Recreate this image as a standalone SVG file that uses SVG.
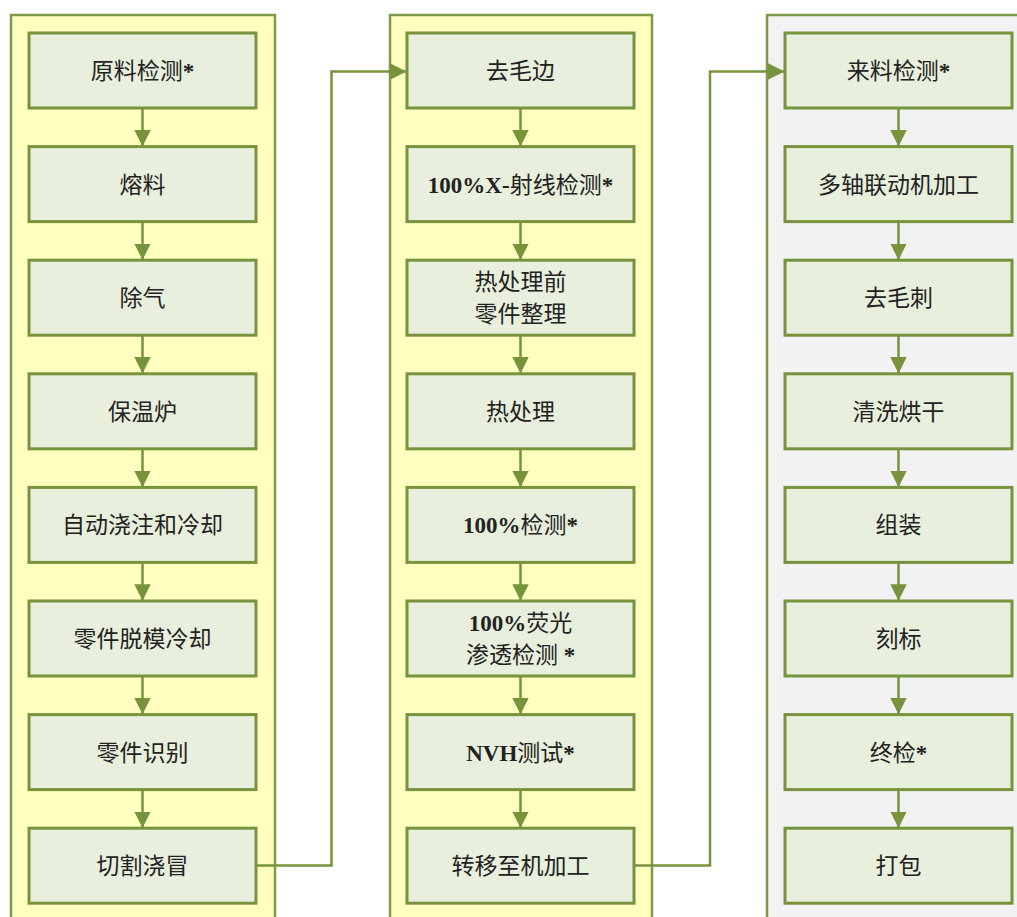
<svg xmlns="http://www.w3.org/2000/svg" width="1017" height="917" viewBox="0 0 1017 917">
<defs>
<style>
.lane{stroke:#7f9b4a;stroke-width:2.5}
.y{fill:#ffffc0}
.g{fill:#f2f2f2}
.box{fill:#e8efdc;stroke:#77933c;stroke-width:3}
.t{font-family:"Liberation Serif","Noto Sans CJK SC",serif;font-size:23px;fill:#222;text-anchor:middle}
.b{font-weight:bold}
.c{fill:none;stroke:#77933c;stroke-width:2.5}
</style>
<marker id="ah" viewBox="0 0 10 10" refX="10" refY="5" markerWidth="6.6" markerHeight="7" markerUnits="strokeWidth" orient="auto">
<path d="M0,0 L10,5 L0,10 z" fill="#77933c"/>
</marker>
</defs>
<rect width="1017" height="917" fill="#ffffff"/>
<g id="lanes">
<rect class="lane y" x="11" y="15" width="264" height="920"/>
<rect class="lane y" x="390" y="15" width="262" height="920"/>
<rect class="lane g" x="767" y="15" width="272" height="920"/>
</g>
<g id="connectors">
<line class="c" x1="142.5" y1="108" x2="142.5" y2="146.5" marker-end="url(#ah)"/>
<line class="c" x1="142.5" y1="221.6" x2="142.5" y2="260" marker-end="url(#ah)"/>
<line class="c" x1="142.5" y1="335.2" x2="142.5" y2="373.6" marker-end="url(#ah)"/>
<line class="c" x1="142.5" y1="448.8" x2="142.5" y2="487.2" marker-end="url(#ah)"/>
<line class="c" x1="142.5" y1="562.4" x2="142.5" y2="600.8" marker-end="url(#ah)"/>
<line class="c" x1="142.5" y1="676" x2="142.5" y2="714.4" marker-end="url(#ah)"/>
<line class="c" x1="142.5" y1="789.6" x2="142.5" y2="828" marker-end="url(#ah)"/>
<line class="c" x1="520.5" y1="108" x2="520.5" y2="146.5" marker-end="url(#ah)"/>
<line class="c" x1="520.5" y1="221.6" x2="520.5" y2="260" marker-end="url(#ah)"/>
<line class="c" x1="520.5" y1="335.2" x2="520.5" y2="373.6" marker-end="url(#ah)"/>
<line class="c" x1="520.5" y1="448.8" x2="520.5" y2="487.2" marker-end="url(#ah)"/>
<line class="c" x1="520.5" y1="562.4" x2="520.5" y2="600.8" marker-end="url(#ah)"/>
<line class="c" x1="520.5" y1="676" x2="520.5" y2="714.4" marker-end="url(#ah)"/>
<line class="c" x1="520.5" y1="789.6" x2="520.5" y2="828" marker-end="url(#ah)"/>
<line class="c" x1="898.5" y1="108" x2="898.5" y2="146.5" marker-end="url(#ah)"/>
<line class="c" x1="898.5" y1="221.6" x2="898.5" y2="260" marker-end="url(#ah)"/>
<line class="c" x1="898.5" y1="335.2" x2="898.5" y2="373.6" marker-end="url(#ah)"/>
<line class="c" x1="898.5" y1="448.8" x2="898.5" y2="487.2" marker-end="url(#ah)"/>
<line class="c" x1="898.5" y1="562.4" x2="898.5" y2="600.8" marker-end="url(#ah)"/>
<line class="c" x1="898.5" y1="676" x2="898.5" y2="714.4" marker-end="url(#ah)"/>
<line class="c" x1="898.5" y1="789.6" x2="898.5" y2="828" marker-end="url(#ah)"/>
<polyline class="c" points="256,865.5 331.5,865.5 331.5,71.5 406.5,71.5" marker-end="url(#ah)"/>
<polyline class="c" points="634,865.5 710,865.5 710,71.5 784.5,71.5" marker-end="url(#ah)"/>
</g>
<g id="n1"><rect class="box" x="29" y="33" width="227" height="75"/><text class="t" x="142.5" y="79">原料检测<tspan class="b">*</tspan></text></g>
<g id="n2"><rect class="box" x="29" y="146.6" width="227" height="75"/><text class="t" x="142.5" y="192.6">熔料</text></g>
<g id="n3"><rect class="box" x="29" y="260.2" width="227" height="75"/><text class="t" x="142.5" y="306.2">除气</text></g>
<g id="n4"><rect class="box" x="29" y="373.8" width="227" height="75"/><text class="t" x="142.5" y="419.8">保温炉</text></g>
<g id="n5"><rect class="box" x="29" y="487.4" width="227" height="75"/><text class="t" x="142.5" y="533.4">自动浇注和冷却</text></g>
<g id="n6"><rect class="box" x="29" y="601" width="227" height="75"/><text class="t" x="142.5" y="647">零件脱模冷却</text></g>
<g id="n7"><rect class="box" x="29" y="714.6" width="227" height="75"/><text class="t" x="142.5" y="760.6">零件识别</text></g>
<g id="n8"><rect class="box" x="29" y="828.2" width="227" height="75"/><text class="t" x="142.5" y="874.2">切割浇冒</text></g>
<g id="m1"><rect class="box" x="407" y="33" width="227" height="75"/><text class="t" x="520.5" y="79">去毛边</text></g>
<g id="m2"><rect class="box" x="407" y="146.6" width="227" height="75"/><text class="t" x="520.5" y="192.6"><tspan class="b">100%X-</tspan>射线检测<tspan class="b">*</tspan></text></g>
<g id="m3"><rect class="box" x="407" y="260.2" width="227" height="75"/><text class="t" x="520.5" y="290">热处理前</text><text class="t" x="520.5" y="322">零件整理</text></g>
<g id="m4"><rect class="box" x="407" y="373.8" width="227" height="75"/><text class="t" x="520.5" y="419.8">热处理</text></g>
<g id="m5"><rect class="box" x="407" y="487.4" width="227" height="75"/><text class="t" x="520.5" y="533.4"><tspan class="b">100%</tspan>检测<tspan class="b">*</tspan></text></g>
<g id="m6"><rect class="box" x="407" y="601" width="227" height="75"/><text class="t" x="520.5" y="631"><tspan class="b">100%</tspan>荧光</text><text class="t" x="520.5" y="663">渗透检测 <tspan class="b">*</tspan></text></g>
<g id="m7"><rect class="box" x="407" y="714.6" width="227" height="75"/><text class="t" x="520.5" y="760.6"><tspan class="b">NVH</tspan>测试<tspan class="b">*</tspan></text></g>
<g id="m8"><rect class="box" x="407" y="828.2" width="227" height="75"/><text class="t" x="520.5" y="874.2">转移至机加工</text></g>
<g id="r1"><rect class="box" x="785" y="33" width="227" height="75"/><text class="t" x="898.5" y="79">来料检测<tspan class="b">*</tspan></text></g>
<g id="r2"><rect class="box" x="785" y="146.6" width="227" height="75"/><text class="t" x="898.5" y="192.6">多轴联动机加工</text></g>
<g id="r3"><rect class="box" x="785" y="260.2" width="227" height="75"/><text class="t" x="898.5" y="306.2">去毛刺</text></g>
<g id="r4"><rect class="box" x="785" y="373.8" width="227" height="75"/><text class="t" x="898.5" y="419.8">清洗烘干</text></g>
<g id="r5"><rect class="box" x="785" y="487.4" width="227" height="75"/><text class="t" x="898.5" y="533.4">组装</text></g>
<g id="r6"><rect class="box" x="785" y="601" width="227" height="75"/><text class="t" x="898.5" y="647">刻标</text></g>
<g id="r7"><rect class="box" x="785" y="714.6" width="227" height="75"/><text class="t" x="898.5" y="760.6">终检<tspan class="b">*</tspan></text></g>
<g id="r8"><rect class="box" x="785" y="828.2" width="227" height="75"/><text class="t" x="898.5" y="874.2">打包</text></g>
</svg>
